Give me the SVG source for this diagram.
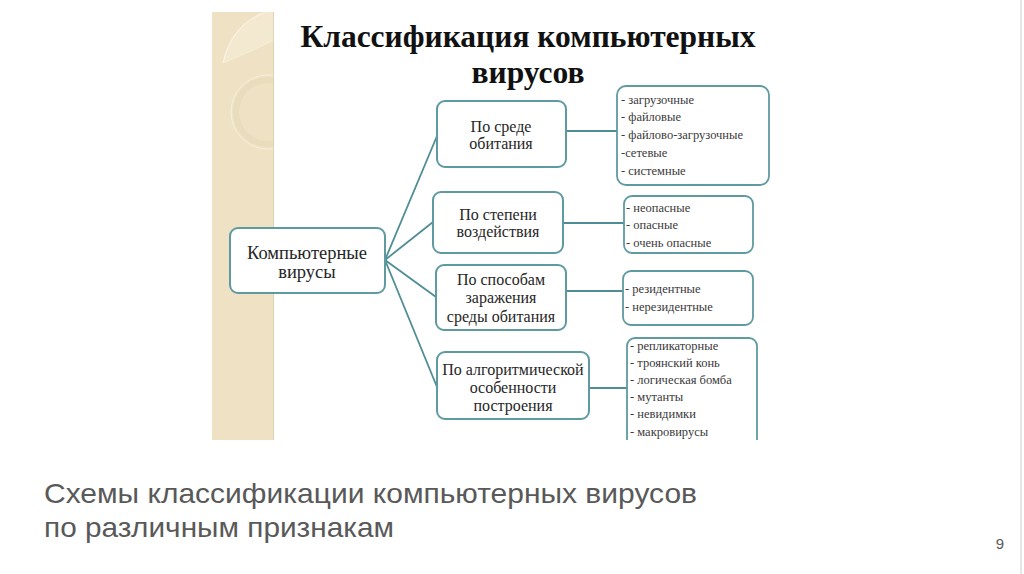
<svg xmlns="http://www.w3.org/2000/svg" width="1024" height="574" viewBox="0 0 1024 574">
<style>
.box{fill:#fff;stroke:#5f9aa0;stroke-width:2}
.lst{fill:#fff;stroke:#5f9aa0;stroke-width:1.8}
.t{font-family:"Liberation Serif","DejaVu Serif",serif;fill:#262626;text-anchor:middle}
.n{font-size:16px}
.m{font-size:18.5px}
.l{font-size:12.5px;font-family:"Liberation Serif","DejaVu Serif",serif;fill:#3a3a3a}
.title{font-family:"Liberation Serif","DejaVu Serif",serif;font-weight:bold;font-size:31.5px;fill:#111;text-anchor:middle}
.cap{font-family:"Liberation Sans","Arial",sans-serif;font-size:28px;fill:#595959}
.con{stroke:#4f8d94;stroke-width:1.8;fill:none}
</style>
<defs>
<clipPath id="pic"><rect x="212" y="12" width="560" height="428"/></clipPath>
<clipPath id="stripclip"><rect x="212" y="12" width="62" height="428"/></clipPath>
</defs>
<rect width="1024" height="574" fill="#fff"/>
<line x1="1021" y1="0" x2="1021" y2="574" stroke="#e6e6e6" stroke-width="2"/>
<g id="picture" clip-path="url(#pic)">
<g id="strip" clip-path="url(#stripclip)">
<rect x="212" y="12" width="62" height="428" fill="#efe2c4"/>
<path d="M223 63 Q232 24 266 12 L274 12 L274 40 Q250 52 223 63 Z" fill="#f3e9d1"/>
<path d="M223 63 Q232 24 266 12" fill="none" stroke="#f9f2e3" stroke-width="1.2"/>
<path d="M223 63 Q250 52 274 40" fill="none" stroke="#f6eedb" stroke-width="1"/>
<circle cx="268" cy="112" r="32" fill="none" stroke="#e8dcbd" stroke-width="6"/>
<circle cx="268" cy="112" r="37" fill="none" stroke="#f6efde" stroke-width="1"/>
<line x1="273.5" y1="12" x2="273.5" y2="440" stroke="#e0d2b2" stroke-width="1"/>
</g>
<g id="title">
<text class="title" x="528" y="47">Классификация компьютерных</text>
<text class="title" x="528" y="83">вирусов</text>
</g>
<g id="connectors">
<line class="con" x1="385" y1="260" x2="437" y2="136"/>
<line class="con" x1="385" y1="260" x2="433" y2="222"/>
<line class="con" x1="385" y1="260" x2="436" y2="297"/>
<line class="con" x1="385" y1="260" x2="437" y2="387"/>
<line class="con" x1="566" y1="131" x2="617" y2="131"/>
<line class="con" x1="563" y1="223" x2="624" y2="223"/>
<line class="con" x1="566" y1="291" x2="623" y2="291"/>
<line class="con" x1="589" y1="388" x2="627" y2="388"/>
</g>
<g id="n-main">
<rect class="box" x="230" y="228" width="155" height="65" rx="8"/>
<text class="t m" x="307" y="259">Компьютерные</text>
<text class="t m" x="307" y="278">вирусы</text>
</g>
<g id="n-sreda">
<rect class="box" x="437" y="101" width="129" height="66" rx="8"/>
<text class="t n" x="501" y="132">По среде</text>
<text class="t n" x="501" y="149">обитания</text>
</g>
<g id="n-stepen">
<rect class="box" x="433" y="192" width="130" height="61" rx="8"/>
<text class="t n" x="498" y="220">По степени</text>
<text class="t n" x="498" y="237">воздействия</text>
</g>
<g id="n-sposob">
<rect class="box" x="436" y="265" width="130" height="65" rx="8"/>
<text class="t n" x="501" y="285">По способам</text>
<text class="t n" x="501" y="303">заражения</text>
<text class="t n" x="501" y="322">среды обитания</text>
</g>
<g id="n-algo">
<rect class="box" x="437" y="352" width="152" height="67" rx="8"/>
<text class="t n" x="513" y="375">По алгоритмической</text>
<text class="t n" x="513" y="393">особенности</text>
<text class="t n" x="513" y="411">построения</text>
</g>
<g id="l-sreda">
<rect class="lst" x="617" y="86" width="152" height="99" rx="9"/>
<text class="l" x="621" y="104">- загрузочные</text>
<text class="l" x="621" y="121">- файловые</text>
<text class="l" x="621" y="139">- файлово-загрузочные</text>
<text class="l" x="621" y="157">-сетевые</text>
<text class="l" x="621" y="175">- системные</text>
</g>
<g id="l-stepen">
<rect class="lst" x="624" y="196" width="129" height="57" rx="8"/>
<text class="l" x="626" y="212">- неопасные</text>
<text class="l" x="626" y="229">- опасные</text>
<text class="l" x="626" y="247">- очень опасные</text>
</g>
<g id="l-sposob">
<rect class="lst" x="623" y="271" width="130" height="54" rx="8"/>
<text class="l" x="625" y="293">- резидентные</text>
<text class="l" x="625" y="311">- нерезидентные</text>
</g>
<g id="l-algo">
<rect class="lst" x="627" y="338" width="130" height="110" rx="8"/>
<text class="l" x="630" y="350">- репликаторные</text>
<text class="l" x="630" y="367">- троянский конь</text>
<text class="l" x="630" y="384">- логическая бомба</text>
<text class="l" x="630" y="401">- мутанты</text>
<text class="l" x="630" y="418">- невидимки</text>
<text class="l" x="630" y="436">- макровирусы</text>
</g>
</g>
<g id="caption">
<text class="cap" x="44" y="503" textLength="653" lengthAdjust="spacingAndGlyphs">Схемы классификации компьютерных вирусов</text>
<text class="cap" x="44" y="537" textLength="350" lengthAdjust="spacingAndGlyphs">по различным признакам</text>
</g>
<text x="1000" y="549" font-family="Liberation Sans, Arial, sans-serif" font-size="15" fill="#595959" text-anchor="middle">9</text>
</svg>
